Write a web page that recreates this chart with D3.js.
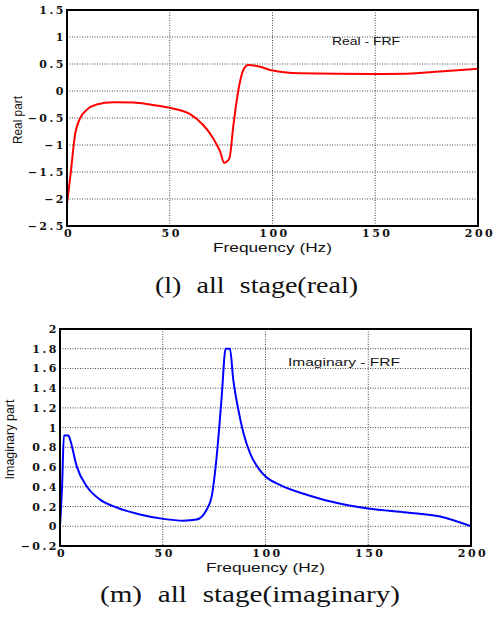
<!DOCTYPE html>
<html>
<head>
<meta charset="utf-8">
<script src="https://cdn.jsdelivr.net/npm/d3@7.9.0/dist/d3.min.js"></script>
<style>
  html, body { margin: 0; padding: 0; background: #fff; }
  svg { display: block; }
</style>
</head>
<body>
<div id="chart"></div>
<script>
// frequency axis shared by both panels
const freqTicks = [0, 50, 100, 150, 200];

// real part of the FRF (Hz, value)
const realFreq = [0, 1.8, 3.9, 6.3, 9.6, 14.4, 22.5, 32.4, 40.4, 50, 59.9, 66.3, 71.2, 74.5, 76.5, 79, 80.9, 83.4, 85.8, 88.2, 93.9, 98.8, 113.4, 149, 165.3, 181.5, 200];
const realVals = [-2.08, -1.52, -0.81, -0.51, -0.35, -0.25, -0.21, -0.215, -0.25, -0.31, -0.43, -0.63, -0.88, -1.12, -1.33, -1.25, -0.66, 0.02, 0.39, 0.48, 0.45, 0.39, 0.33, 0.315, 0.32, 0.36, 0.41];
const realTicks = [1.5, 1, 0.5, 0, -0.5, -1, -1.5, -2, -2.5];

// imaginary part of the FRF (Hz, value)
const imagFreq = [0, 1, 1.9, 4.1, 4.9, 8.1, 13, 19.5, 27.6, 38.9, 50.3, 60, 66.5, 71.4, 73.8, 75.4, 77, 78.7, 80.6, 82.7, 84.3, 86.8, 89.2, 92.5, 96.5, 100, 107, 120, 136, 150, 168.7, 185, 200];
const imagVals = [0, 0.4, 0.92, 0.92, 0.88, 0.61, 0.405, 0.27, 0.19, 0.12, 0.075, 0.057, 0.068, 0.17, 0.3, 0.54, 0.88, 1.32, 1.8, 1.8, 1.49, 1.18, 0.95, 0.74, 0.59, 0.505, 0.42, 0.32, 0.23, 0.18, 0.14, 0.1, 0];
const imagTicks = [2, 1.8, 1.6, 1.4, 1.2, 1, 0.8, 0.6, 0.4, 0.2, 0, -0.2];

const width = 494;
const height = 621;

const svg = d3.select('#chart')
  .append('svg')
  .attr('width', width)
  .attr('height', height);

svg.append('rect').attr('width', width).attr('height', height).attr('fill', '#fff');

const fmt = (d) => String(d).replace('-', '\u2212');

function drawPanel(opts) {
  const { box, yDomain, yTicks, xs, ys, color, ylabel, legend, legendPos, ylabelX, xlabelY, legendLen, ylabelLen } = opts;

  const x = d3.scaleLinear().domain([0, 200]).range([box.left, box.right]);
  const y = d3.scaleLinear().domain(yDomain).range([box.bottom, box.top]);

  const g = svg.append('g');

  // dotted grid
  g.append('g')
    .selectAll('line')
    .data(yTicks.filter((d) => d !== yDomain[0] && d !== yDomain[1]))
    .join('line')
    .attr('x1', box.left).attr('x2', box.right)
    .attr('y1', (d) => y(d)).attr('y2', (d) => y(d))
    .attr('stroke', '#444')
    .attr('stroke-width', 1)
    .attr('stroke-dasharray', '1,1.5');

  g.append('g')
    .selectAll('line')
    .data(freqTicks.filter((d) => d !== 0 && d !== 200))
    .join('line')
    .attr('x1', (d) => x(d)).attr('x2', (d) => x(d))
    .attr('y1', box.top).attr('y2', box.bottom)
    .attr('stroke', '#444')
    .attr('stroke-width', 1)
    .attr('stroke-dasharray', '1,1.5');

  // curve
  const pts = xs.map((f, i) => [f, ys[i]]);
  const line = d3.line()
    .x((d) => x(d[0]))
    .y((d) => y(d[1]))
    .curve(d3.curveMonotoneX);

  g.append('path')
    .datum(pts)
    .attr('d', line)
    .attr('fill', 'none')
    .attr('stroke', color)
    .attr('stroke-width', 2)
    .attr('stroke-linejoin', 'round');

  // frame
  g.append('rect')
    .attr('x', box.left).attr('y', box.top)
    .attr('width', box.right - box.left)
    .attr('height', box.bottom - box.top)
    .attr('fill', 'none')
    .attr('stroke', '#000')
    .attr('stroke-width', 2);

  // tick labels
  const tickFont = (sel) => sel
    .attr('font-family', 'DejaVu Serif')
    .attr('font-weight', 'bold')
    .attr('font-size', 11)
    .attr('letter-spacing', 2.5)
    .attr('fill', '#111');

  g.append('g')
    .selectAll('text')
    .data(yTicks)
    .join('text')
    .attr('x', box.left - 1)
    .attr('y', (d) => y(d) + 4)
    .attr('text-anchor', 'end')
    .call(tickFont)
    .text(fmt);

  g.append('g')
    .selectAll('text')
    .data(freqTicks)
    .join('text')
    .attr('x', (d) => x(d) + 2)
    .attr('y', box.bottom + 11)
    .attr('text-anchor', 'middle')
    .call(tickFont)
    .text(fmt);

  // axis labels
  g.append('text')
    .attr('x', (box.left + box.right) / 2)
    .attr('y', xlabelY)
    .attr('text-anchor', 'middle')
    .attr('font-family', 'Liberation Sans')
    .attr('font-size', 13)
    .attr('textLength', 119)
    .attr('lengthAdjust', 'spacingAndGlyphs')
    .attr('fill', '#111')
    .text('Frequency (Hz)');

  g.append('text')
    .attr('transform', `translate(${ylabelX},${(box.top + box.bottom) / 2 + 2}) rotate(-90)`)
    .attr('text-anchor', 'middle')
    .attr('font-family', 'Liberation Sans Narrow, Liberation Sans')
    .attr('font-size', 13)
    .attr('textLength', ylabelLen)
    .attr('lengthAdjust', 'spacingAndGlyphs')
    .attr('fill', '#111')
    .text(ylabel);

  g.append('text')
    .attr('x', legendPos[0])
    .attr('y', legendPos[1])
    .attr('font-family', 'Liberation Sans')
    .attr('font-size', 11)
    .attr('textLength', legendLen)
    .attr('lengthAdjust', 'spacingAndGlyphs')
    .attr('fill', '#111')
    .text(legend);
}

drawPanel({
  box: { left: 67, right: 478, top: 10, bottom: 226 },
  yDomain: [-2.5, 1.5],
  yTicks: realTicks,
  xs: realFreq,
  ys: realVals,
  color: '#ff0000',
  ylabel: 'Real part',
  ylabelX: 22,
  ylabelLen: 48,
  xlabelY: 252,
  legend: 'Real - FRF',
  legendPos: [332, 45],
  legendLen: 68,
});

drawPanel({
  box: { left: 60, right: 471, top: 329, bottom: 546 },
  yDomain: [-0.2, 2],
  yTicks: imagTicks,
  xs: imagFreq,
  ys: imagVals,
  color: '#0000ff',
  ylabel: 'Imaginary part',
  ylabelX: 14,
  ylabelLen: 80,
  xlabelY: 572,
  legend: 'Imaginary - FRF',
  legendPos: [288, 366],
  legendLen: 112,
});

// captions
const captions = [
  { text: '(l) all stage(real)', x: 155, y: 293, len: 203 },
  { text: '(m) all stage(imaginary)', x: 100, y: 602, len: 300 },
];

svg.append('g')
  .selectAll('text')
  .data(captions)
  .join('text')
  .attr('x', (d) => d.x)
  .attr('y', (d) => d.y)
  .attr('font-family', 'Liberation Serif')
  .attr('font-size', 24)
  .attr('word-spacing', 7)
  .attr('textLength', (d) => d.len)
  .attr('lengthAdjust', 'spacingAndGlyphs')
  .attr('fill', '#111')
  .text((d) => d.text);
</script>
</body>
</html>
